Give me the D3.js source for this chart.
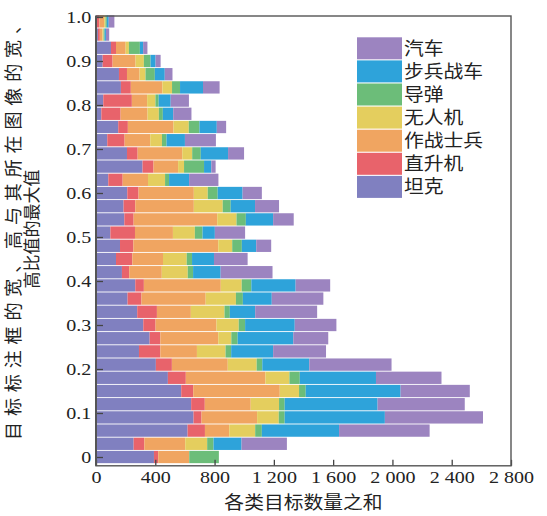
<!DOCTYPE html>
<html>
<head>
<meta charset="utf-8">
<script src="https://cdn.jsdelivr.net/npm/d3@7"></script>
<style>
  body { margin: 0; background: #fff; }
</style>
</head>
<body>
<div id="chart"></div>
<script>
// bar positions (ratio of box size to image size)
var ratios = [0, 0.03, 0.06, 0.09, 0.12, 0.15, 0.18, 0.21, 0.24, 0.27, 0.30, 0.33,
  0.36, 0.39, 0.42, 0.45, 0.48, 0.51, 0.54, 0.57, 0.60, 0.63, 0.66, 0.69, 0.72,
  0.75, 0.78, 0.81, 0.84, 0.87, 0.90, 0.93, 0.96, 0.99];

// counts per class, same order as ratios
var tank    = [391,254,618,658,642,575,485,404,290,362,319,278,213,265,175,135,162,97,191,186,211,83,314,209,76,150,36,49,168,155,45,101,13,5];
var heli    = [29,72,117,54,92,81,121,108,144,72,83,133,94,58,49,110,90,166,63,79,76,97,74,72,117,65,130,193,67,54,67,34,13,18];
var soldier = [209,276,164,375,310,584,537,377,247,391,411,229,433,519,220,207,573,256,564,395,373,171,166,301,173,308,182,103,213,85,155,65,18,32];
var uav     = [0,148,175,146,191,130,162,195,193,88,150,227,204,141,175,160,94,148,130,195,94,115,40,67,79,103,76,56,65,40,56,22,7,9];
var missile = [200,43,45,40,38,45,70,38,38,43,43,36,47,65,36,36,65,52,63,54,67,27,135,58,31,72,27,22,54,63,45,74,7,9];
var ifv     = [0,189,521,676,627,640,514,317,283,375,335,171,195,299,186,148,97,83,184,164,168,135,49,184,124,117,70,81,155,67,34,22,9,13];
var car     = [0,306,611,662,588,467,442,555,357,236,281,418,348,233,350,227,101,204,139,162,130,198,29,108,209,63,123,123,112,52,34,29,22,38];

var keys   = ["tank", "heli", "soldier", "uav", "missile", "ifv", "car"];
var names  = ["坦克", "直升机", "作战士兵", "无人机", "导弹", "步兵战车", "汽车"];
var colors = ["#8080c0", "#e8636b", "#f0a561", "#e4ce5e", "#6cbd79", "#2ea3da", "#9c84c0"];

var xTicks = [0, 400, 800, 1200, 1600, 2000, 2400, 2800];
var yTicks = [0, 0.1, 0.2, 0.3, 0.4, 0.5, 0.6, 0.7, 0.8, 0.9, 1.0];

var svgWidth = 547;
var svgHeight = 516;

var svg = d3.select("#chart")
  .append("svg")
  .attr("width", svgWidth)
  .attr("height", svgHeight);

var numFont = "'Liberation Serif', 'Times New Roman', serif";
var cjkFont = "'Noto Sans CJK SC', sans-serif";

// rows for d3.stack
var rows = ratios.map(function(r, i) {
  return { ratio: r, tank: tank[i], heli: heli[i], soldier: soldier[i], uav: uav[i],
           missile: missile[i], ifv: ifv[i], car: car[i] };
});
var series = d3.stack().keys(keys)(rows);

// scales
var x = d3.scaleLinear().domain([0, 2800]).range([96, 511]);
var y = d3.scaleLinear().domain([-0.02, 1.0]).range([465.8, 17]);
var barH = 12.3;

// bars
svg.append("g")
  .selectAll("g")
  .data(series)
  .enter()
  .append("g")
  .attr("fill", function(d, i) { return colors[i]; })
  .selectAll("rect")
  .data(function(d) { return d; })
  .enter()
  .append("rect")
  .attr("x", function(d) { return x(d[0]); })
  .attr("y", function(d) { return y(d.data.ratio) - barH / 2; })
  .attr("width", function(d) { return Math.max(0, x(d[1]) - x(d[0])); })
  .attr("height", barH);

// axes
var spaceFmt = d3.formatLocale({ decimal: ".", thousands: " ", grouping: [3], currency: ["", ""] }).format(",");

var xAxis = svg.append("g")
  .attr("transform", "translate(0," + y(-0.02) + ")")
  .call(d3.axisBottom(x).tickValues(xTicks).tickSizeInner(-6).tickSizeOuter(0).tickPadding(5)
    .tickFormat(function(d) { return spaceFmt(d); }));

var yAxis = svg.append("g")
  .attr("transform", "translate(" + x(0) + ",0)")
  .call(d3.axisLeft(y).tickValues(yTicks).tickSizeInner(-7).tickSizeOuter(0).tickPadding(4)
    .tickFormat(function(d) { return d === 0 ? "0" : d3.format(".1f")(d); }));

[xAxis, yAxis].forEach(function(ax) {
  ax.select(".domain").remove();
  ax.selectAll(".tick line").attr("stroke", "#444").attr("stroke-width", 1.3);
  ax.selectAll(".tick text")
    .attr("fill", "#222")
    .style("font-family", numFont)
    .style("font-size", "17px")
    .attr("transform", "scale(1.18,1)");
});

// frame
svg.append("rect")
  .attr("x", x(0))
  .attr("y", 16)
  .attr("width", x(2800) - x(0))
  .attr("height", y(-0.02) - 16)
  .attr("fill", "none")
  .attr("stroke", "#555")
  .attr("stroke-width", 1.4);

svg.append("line")
  .attr("x1", x(0)).attr("x2", x(0))
  .attr("y1", 16).attr("y2", y(-0.02))
  .attr("stroke", "#555")
  .attr("stroke-width", 2);

// x label
svg.append("text")
  .attr("transform", "translate(" + ((x(0) + x(2800)) / 2) + ",509) scale(1.1,1)")
  .attr("text-anchor", "middle")
  .style("font-family", cjkFont)
  .style("font-size", "18px")
  .attr("fill", "#222")
  .text("各类目标数量之和");

// y label, two lines
svg.append("text")
  .attr("transform", "translate(20,228) rotate(-90)")
  .attr("text-anchor", "middle")
  .attr("textLength", 424)
  .attr("lengthAdjust", "spacing")
  .style("font-family", cjkFont)
  .style("font-size", "18px")
  .attr("fill", "#222")
  .text("目标标注框的宽、高与其所在图像的宽、");

svg.append("text")
  .attr("transform", "translate(38,229) rotate(-90)")
  .attr("text-anchor", "middle")
  .style("font-family", cjkFont)
  .style("font-size", "17px")
  .attr("fill", "#222")
  .text("高比值的最大值");

// legend, top item is the last stacked class
var legend = svg.append("g")
  .selectAll("g")
  .data(d3.range(keys.length).reverse())
  .enter()
  .append("g")
  .attr("transform", function(d, i) { return "translate(357," + (37.3 + i * 23.1) + ")"; });

legend.append("rect")
  .attr("width", 45)
  .attr("height", 22)
  .attr("fill", function(d) { return colors[d]; });

legend.append("text")
  .attr("transform", "translate(47,11) scale(1.1,1)")
  .attr("dy", "0.36em")
  .style("font-family", cjkFont)
  .style("font-size", "18px")
  .attr("fill", "#222")
  .text(function(d) { return names[d]; });
</script>
</body>
</html>
